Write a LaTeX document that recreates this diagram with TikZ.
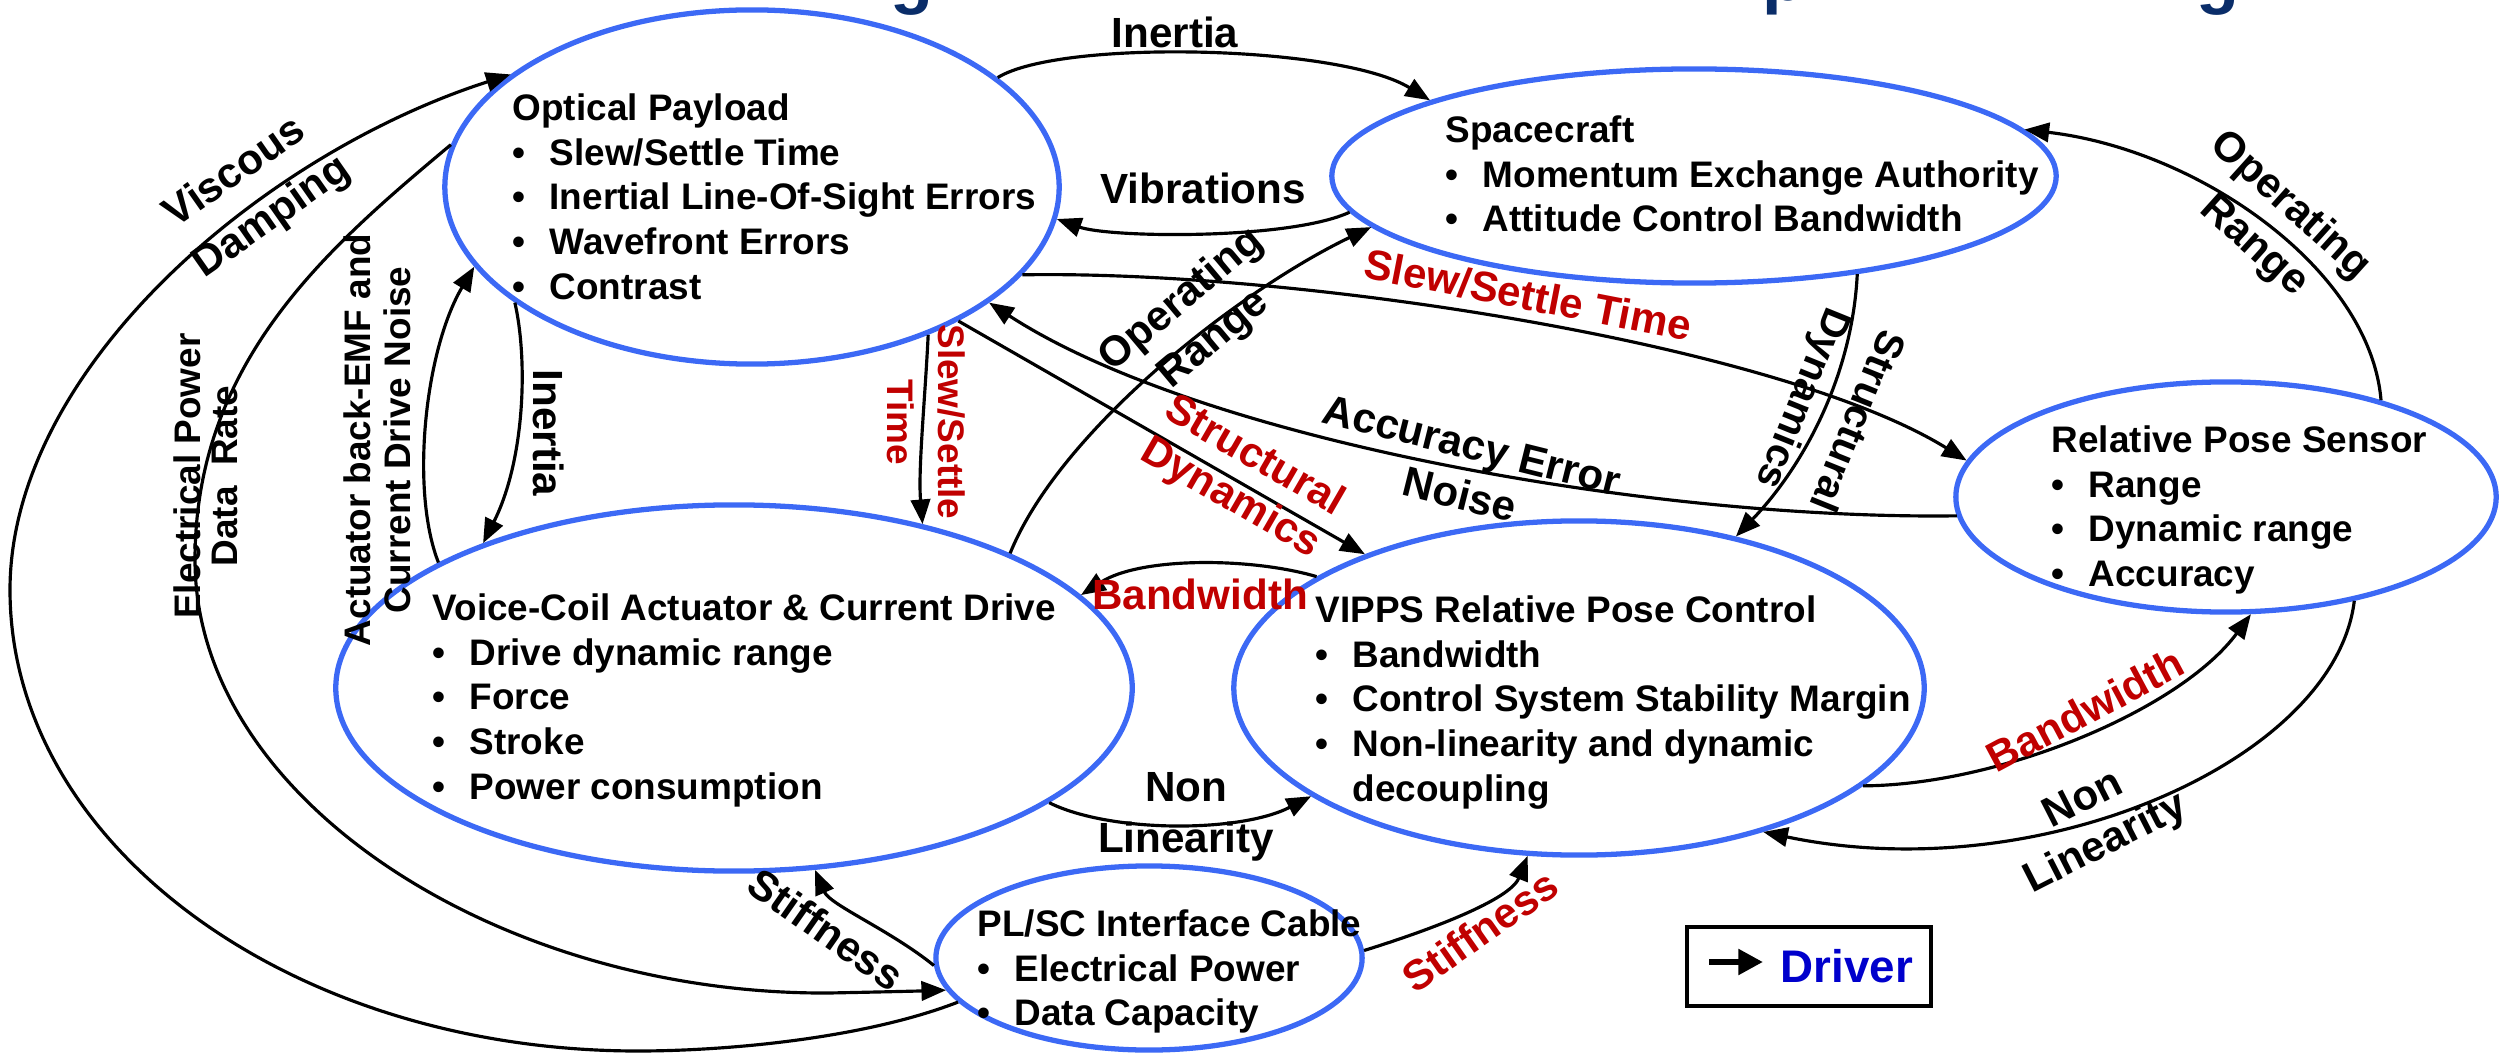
\documentclass[tikz,border=0pt]{standalone}
\usepackage{fontspec}
\setmainfont{Liberation Sans}
\usetikzlibrary{arrows.meta,shapes.geometric}
\definecolor{ellblue}{RGB}{60,105,245}
\definecolor{lblred}{RGB}{192,0,0}
\definecolor{drvblue}{RGB}{0,0,204}
\definecolor{navy}{RGB}{10,45,105}
\newcommand{\bul}{\makebox[0.37cm][l]{\textbullet}}
\begin{document}
\begin{tikzpicture}[x=0.01cm,y=-0.01cm,
  blob/.style={ellipse, draw=ellblue, line width=1.5pt, inner sep=0pt},
  body/.style={anchor=north west, inner sep=0pt, align=left, font=\fontsize{10.5}{12.7}\selectfont\bfseries},
  conn/.style={draw=black, line width=0.9pt, -{Triangle[length=7pt,width=5.5pt]}},
  lbl/.style={inner sep=0pt, align=center, font=\fontsize{12}{14.5}\selectfont\bfseries},
  smalllbl/.style={inner sep=0pt, align=center, font=\fontsize{10.5}{11.4}\selectfont\bfseries},
  redlbl/.style={lbl, text=lblred},
]
\useasboundingbox (0,0) rectangle (2509,1058);

% title fragments (cut off at the top edge)
\begin{scope}
\clip (0,0) rectangle (2509,1058);
\node[anchor=base, inner sep=0pt, font=\fontsize{20}{24}\selectfont\bfseries, text=navy] (tg1) at (912,1) {g};
\node[anchor=base west, inner sep=0pt, font=\fontsize{20}{24}\selectfont\bfseries, text=navy] (tp) at (1762,1) {p};
\node[anchor=base, inner sep=0pt, font=\fontsize{20}{24}\selectfont\bfseries, text=navy] (tg2) at (2218,1) {g};
\end{scope}

% ellipses
\node[blob, minimum width=6.14cm, minimum height=3.54cm] (op) at (752,187) {};
\node[blob, minimum width=7.24cm, minimum height=2.14cm] (sc) at (1694,176) {};
\node[blob, minimum width=5.40cm, minimum height=2.30cm] (rps) at (2226,497) {};
\node[blob, minimum width=7.96cm, minimum height=3.66cm] (vc) at (734,688) {};
\node[blob, minimum width=6.90cm, minimum height=3.34cm] (vipps) at (1579,688) {};
\node[blob, minimum width=4.26cm, minimum height=1.84cm] (plsc) at (1149,958) {};

% ellipse texts
\node[body] (optxt) at (512,93) {Optical Payload\\\bul Slew/Settle Time\\\bul Inertial Line-Of-Sight Errors\\\bul Wavefront Errors\\\bul Contrast};
\node[body] (sctxt) at (1445,115) {Spacecraft\\\bul Momentum Exchange Authority\\\bul Attitude Control Bandwidth};
\node[body] (rpstxt) at (2051,425) {Relative Pose Sensor\\\bul Range\\\bul Dynamic range\\\bul Accuracy};
\node[body] (vctxt) at (432,593) {Voice-Coil Actuator \& Current Drive\\\bul Drive dynamic range\\\bul Force\\\bul Stroke\\\bul Power consumption};
\node[body] (vippstxt) at (1315,595) {VIPPS Relative Pose Control\\\bul Bandwidth\\\bul Control System Stability Margin\\\bul Non-linearity and dynamic\\\makebox[0.37cm]{}decoupling};
\node[body] (plsctxt) at (977,909) {PL/SC Interface Cable\\\bul Electrical Power\\\bul Data Capacity};

% connectors
\draw[conn] (op.24) .. controls (1060,39) and (1340,45) .. (sc.164);
\draw[conn] (sc.186) .. controls (1290,240) and (1110,238) .. (op.-6);
\draw[conn] (vc.26) .. controls (1060,430) and (1240,290) .. (sc.189);
\draw[conn] (op.-18) .. controls (1300,270) and (1780,345) .. (rps.172);
\draw[conn] (rps.184) .. controls (1650,520) and (1200,440) .. (op.-26.5);
\draw[conn] (op.-33) -- (vipps.148);
\draw[conn] (op.-40.5) .. controls (925,400) and (918,470) .. (vc.41.7);
\draw[conn] (op.206) .. controls (528,360) and (525,460) .. (vc.150);
\draw[conn] (vc.157) .. controls (410,490) and (425,350) .. (op.196);
\draw[conn] (plsc.193) .. controls (860,1040) and (720,1051) .. (638,1051)
  .. controls (291,1051) and (10,845) .. (10,590)
  .. controls (10,370) and (260,155) .. (op.155);
\draw[conn] (op.172) .. controls (330,246) and (195,360) .. (195,560)
  .. controls (195,800) and (500,995) .. (829,993)
  .. controls (880,992) and (920,991) .. (plsc.189);
\draw[conn] (vipps.157.6) .. controls (1250,557) and (1140,557) .. (vc.15.7);
\draw[conn] (vc.-20) .. controls (1110,833) and (1240,833) .. (vipps.202.5);
\draw[conn] (vipps.-19.5) .. controls (2000,785) and (2180,710) .. (rps.-78);
\draw[conn] (rps.-39) .. controls (2335,760) and (2040,890) .. (vipps.-38.3);
\draw[conn] (plsc.182) .. controls (890,930) and (830,905) .. (vc.-66.5);
\draw[conn] (plsc.2) .. controls (1430,930) and (1510,900) .. (vipps.-107.3);
\draw[conn] (rps.32) .. controls (2370,270) and (2200,150) .. (sc.8.4);
\draw[conn] (sc.-31) .. controls (1852,380) and (1800,470) .. (vipps.44);

% connector labels
\node[lbl] (l1) at (1175,32) {Inertia};
\node[lbl] (l2) at (1203,188) {Vibrations};
\node[lbl, rotate=40] (l3) at (1198,320) {Operating\\Range};
\node[redlbl, rotate=-11] (l4) at (1528,295) {Slew/Settle Time};
\node[lbl, rotate=-14] (l5) at (1466,470) {Accuracy Error\\Noise};
\node[redlbl, rotate=-30, font=\fontsize{12}{13.6}\selectfont\bfseries] (l6) at (1242,478) {Structural\\Dynamics};
\node[smalllbl, text=lblred, rotate=-90, font=\fontsize{10.5}{14.5}\selectfont\bfseries] (l7) at (926,422) {Slew/Settle\\Time};
\node[lbl, rotate=-90] (l8) at (549,433) {Inertia};
\node[smalllbl, rotate=90] (l9) at (377,440) {Actuator back-EMF and\\Current Drive Noise};
\node[lbl, rotate=35] (l10a) at (233,170) {Viscous};
\node[lbl, rotate=35] (l10b) at (272,218) {Damping};
\node[smalllbl, rotate=90, font=\fontsize{10.5}{10.6}\selectfont\bfseries] (l11) at (206,476) {Electrical Power\\Data\ \ Rate};
\node[redlbl] (l12) at (1200,594) {Bandwidth};
\node[lbl] (l13) at (1186,817) {Non\\Linearity};
\node[redlbl, rotate=28] (l14) at (2085,710) {Bandwidth};
\node[lbl, rotate=27, font=\fontsize{12}{14}\selectfont\bfseries] (l15) at (2095,823) {Non\\Linearity};
\node[lbl, rotate=-35] (l16) at (826,929) {Stiffness};
\node[redlbl, rotate=35] (l17) at (1480,931) {Stiffness};
\node[lbl, rotate=-42, font=\fontsize{12}{15.5}\selectfont\bfseries] (l18) at (2272,226) {Operating\\Range};
\node[lbl, rotate=-112, font=\fontsize{11.5}{16.5}\selectfont\bfseries] (l19) at (1828,409) {Structural\\Dynamics};

% legend
\node[draw=black, line width=1pt, minimum width=2.44cm, minimum height=0.79cm, inner sep=0pt] (legend) at (1809,966.5) {};
\coordinate (lgA) at (1709,962);
\coordinate (lgB) at (1763,962);
\draw[line width=1.8pt, -{Triangle[length=7pt,width=7pt]}] (lgA) -- (lgB);
\node[inner sep=0pt, font=\fontsize{13}{15}\selectfont\bfseries, text=drvblue] (drv) at (1847,966) {Driver};
\end{tikzpicture}
\end{document}
